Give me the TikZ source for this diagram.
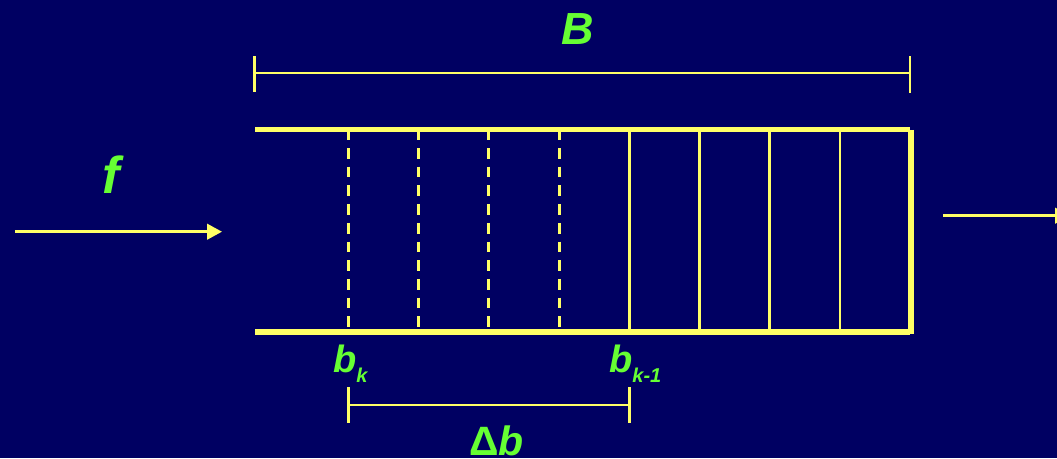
\documentclass[tikz,border=0pt]{standalone}
\usepackage{fontspec}
\setmainfont{Liberation Sans}
\usetikzlibrary{arrows.meta}
\definecolor{bgnavy}{RGB}{0,0,98}
\definecolor{lineyel}{RGB}{255,255,102}
\definecolor{labgreen}{RGB}{102,255,51}
\tikzset{
  lbl/.style={text=labgreen, inner sep=0pt, anchor=base, font=\bfseries\itshape},
  wall/.style={draw=lineyel, line width=5.5pt},
  dimline/.style={draw=lineyel, line width=2.8pt},
  slice/.style={draw=lineyel, line width=2.7pt},
  dslice/.style={slice, dash pattern=on 10.7pt off 8pt, dash phase=2.7pt},
  flow/.style={draw=lineyel, line width=2.8pt, -{Triangle[length=15pt,width=15.5pt]}},
}
\begin{document}
\begin{tikzpicture}[x=1pt,y=-1pt]
\fill[bgnavy] (0,0) rectangle (1057,458);
\useasboundingbox (0,0) rectangle (1057,458);
\clip (0,0) rectangle (1057,458);

% labels
\node[lbl, font=\fontsize{45}{50}\selectfont\bfseries\itshape] (B) at (578,44) {B};
\node[lbl, font=\fontsize{52}{56}\selectfont\bfseries\itshape] (f) at (111,193) {f};
\node[lbl, anchor=base west, font=\fontsize{38}{42}\selectfont\bfseries\itshape] (bk) at (333,372) {b\raisebox{-10pt}{\fontsize{20}{22}\selectfont k}};
\node[lbl, anchor=base west, font=\fontsize{38}{42}\selectfont\bfseries\itshape] (bk1) at (609,372) {b\raisebox{-10pt}{\fontsize{20}{22}\selectfont k-1}};
\node[lbl, anchor=base west, text depth=0pt, font=\fontsize{41}{45}\selectfont\bfseries] (db) at (469,455) {Δ\textit{b}};

% top dimension B
\coordinate (tl) at (254.5,73);
\coordinate (tr) at (910,73);
\draw[dimline] (tl) -- (tr);
\draw[dimline] (254.5,56) -- (254.5,92);
\draw[dimline] (910,56) -- (910,92.5);

% box
\coordinate (ul) at (255,129.5);
\coordinate (ll) at (255,332);
\draw[wall] (ul) -- (910,129.5);
\draw[wall] (ll) -- (910,332);
\draw[wall] (911,129.8) -- (911,333.5);

% slices
\foreach \x in {348.5,418.5,488.5,559.5}
  \draw[dslice] (\x,132) -- (\x,329.5);
\foreach \x in {629.5,699.5,769.5,840}
  \draw[slice] (\x,132) -- (\x,329.5);

% bottom dimension
\coordinate (dl) at (348.5,405);
\coordinate (dr) at (629.5,405);
\draw[dimline] (dl) -- (dr);
\draw[dimline] (348.5,387) -- (348.5,423);
\draw[dimline] (629.5,387) -- (629.5,423);

% flow arrows
\coordinate (inA) at (15,231.7);
\coordinate (inB) at (222,231.7);
\draw[flow] (inA) -- (inB);
\coordinate (outA) at (943,215.7);
\coordinate (outB) at (1070,215.7);
\draw[flow] (outA) -- (outB);
\end{tikzpicture}
\end{document}
